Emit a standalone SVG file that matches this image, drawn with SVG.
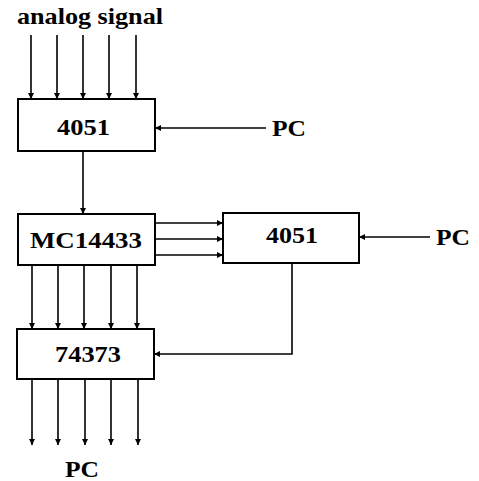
<svg xmlns="http://www.w3.org/2000/svg" width="479" height="481" viewBox="0 0 479 481">
<style>
.box{fill:#fff;stroke:#000;stroke-width:2}
.ln{fill:none;stroke:#000;stroke-width:1.6}
.t{font-family:"Liberation Serif","Times New Roman",serif;font-weight:bold;font-size:23px;fill:#000}
</style>
<defs>
<marker id="ah" viewBox="0 0 10 10" refX="10" refY="5" markerWidth="6" markerHeight="6" markerUnits="userSpaceOnUse" orient="auto">
<path d="M0,0 L10,5 L0,10 z" fill="#000"/>
</marker>
</defs>
<rect width="479" height="481" fill="#fff"/>
<text class="t" x="17" y="24" textLength="146" lengthAdjust="spacingAndGlyphs">analog signal</text>
<g id="connectors">
<line class="ln" x1="31" y1="35" x2="31" y2="99" marker-end="url(#ah)"/>
<line class="ln" x1="57" y1="35" x2="57" y2="99" marker-end="url(#ah)"/>
<line class="ln" x1="83" y1="35" x2="83" y2="99" marker-end="url(#ah)"/>
<line class="ln" x1="109" y1="35" x2="109" y2="99" marker-end="url(#ah)"/>
<line class="ln" x1="136" y1="35" x2="136" y2="99" marker-end="url(#ah)"/>
<line class="ln" x1="266" y1="128" x2="155" y2="128" marker-end="url(#ah)"/>
<line class="ln" x1="83" y1="151" x2="83" y2="214" marker-end="url(#ah)"/>
<line class="ln" x1="155" y1="223" x2="223" y2="223" marker-end="url(#ah)"/>
<line class="ln" x1="155" y1="239" x2="223" y2="239" marker-end="url(#ah)"/>
<line class="ln" x1="155" y1="255" x2="223" y2="255" marker-end="url(#ah)"/>
<line class="ln" x1="430" y1="237" x2="359" y2="237" marker-end="url(#ah)"/>
<line class="ln" x1="32" y1="265" x2="32" y2="329" marker-end="url(#ah)"/>
<line class="ln" x1="58" y1="265" x2="58" y2="329" marker-end="url(#ah)"/>
<line class="ln" x1="84" y1="265" x2="84" y2="329" marker-end="url(#ah)"/>
<line class="ln" x1="111" y1="265" x2="111" y2="329" marker-end="url(#ah)"/>
<line class="ln" x1="137" y1="265" x2="137" y2="329" marker-end="url(#ah)"/>
<polyline class="ln" points="292,263 292,354 154,354" marker-end="url(#ah)"/>
<line class="ln" x1="32" y1="379" x2="32" y2="445" marker-end="url(#ah)"/>
<line class="ln" x1="58" y1="379" x2="58" y2="445" marker-end="url(#ah)"/>
<line class="ln" x1="85" y1="379" x2="85" y2="445" marker-end="url(#ah)"/>
<line class="ln" x1="111" y1="379" x2="111" y2="445" marker-end="url(#ah)"/>
<line class="ln" x1="138" y1="379" x2="138" y2="445" marker-end="url(#ah)"/>
</g>
<g id="mux1">
<rect class="box" x="18" y="99" width="137" height="52"/>
<text class="t" x="57" y="135" textLength="53" lengthAdjust="spacingAndGlyphs">4051</text>
</g>
<g id="pc1"><text class="t" x="272" y="136" textLength="34" lengthAdjust="spacingAndGlyphs">PC</text></g>
<g id="adc">
<rect class="box" x="18" y="214" width="137" height="51"/>
<text class="t" x="30" y="248" textLength="112" lengthAdjust="spacingAndGlyphs">MC14433</text>
</g>
<g id="mux2">
<rect class="box" x="223" y="213" width="136" height="50"/>
<text class="t" x="266" y="243" textLength="52" lengthAdjust="spacingAndGlyphs">4051</text>
</g>
<g id="pc2"><text class="t" x="436" y="245" textLength="34" lengthAdjust="spacingAndGlyphs">PC</text></g>
<g id="latch">
<rect class="box" x="17" y="329" width="137" height="50"/>
<text class="t" x="55" y="362" textLength="66" lengthAdjust="spacingAndGlyphs">74373</text>
</g>
<g id="pc3"><text class="t" x="65" y="477" textLength="34" lengthAdjust="spacingAndGlyphs">PC</text></g>
</svg>
